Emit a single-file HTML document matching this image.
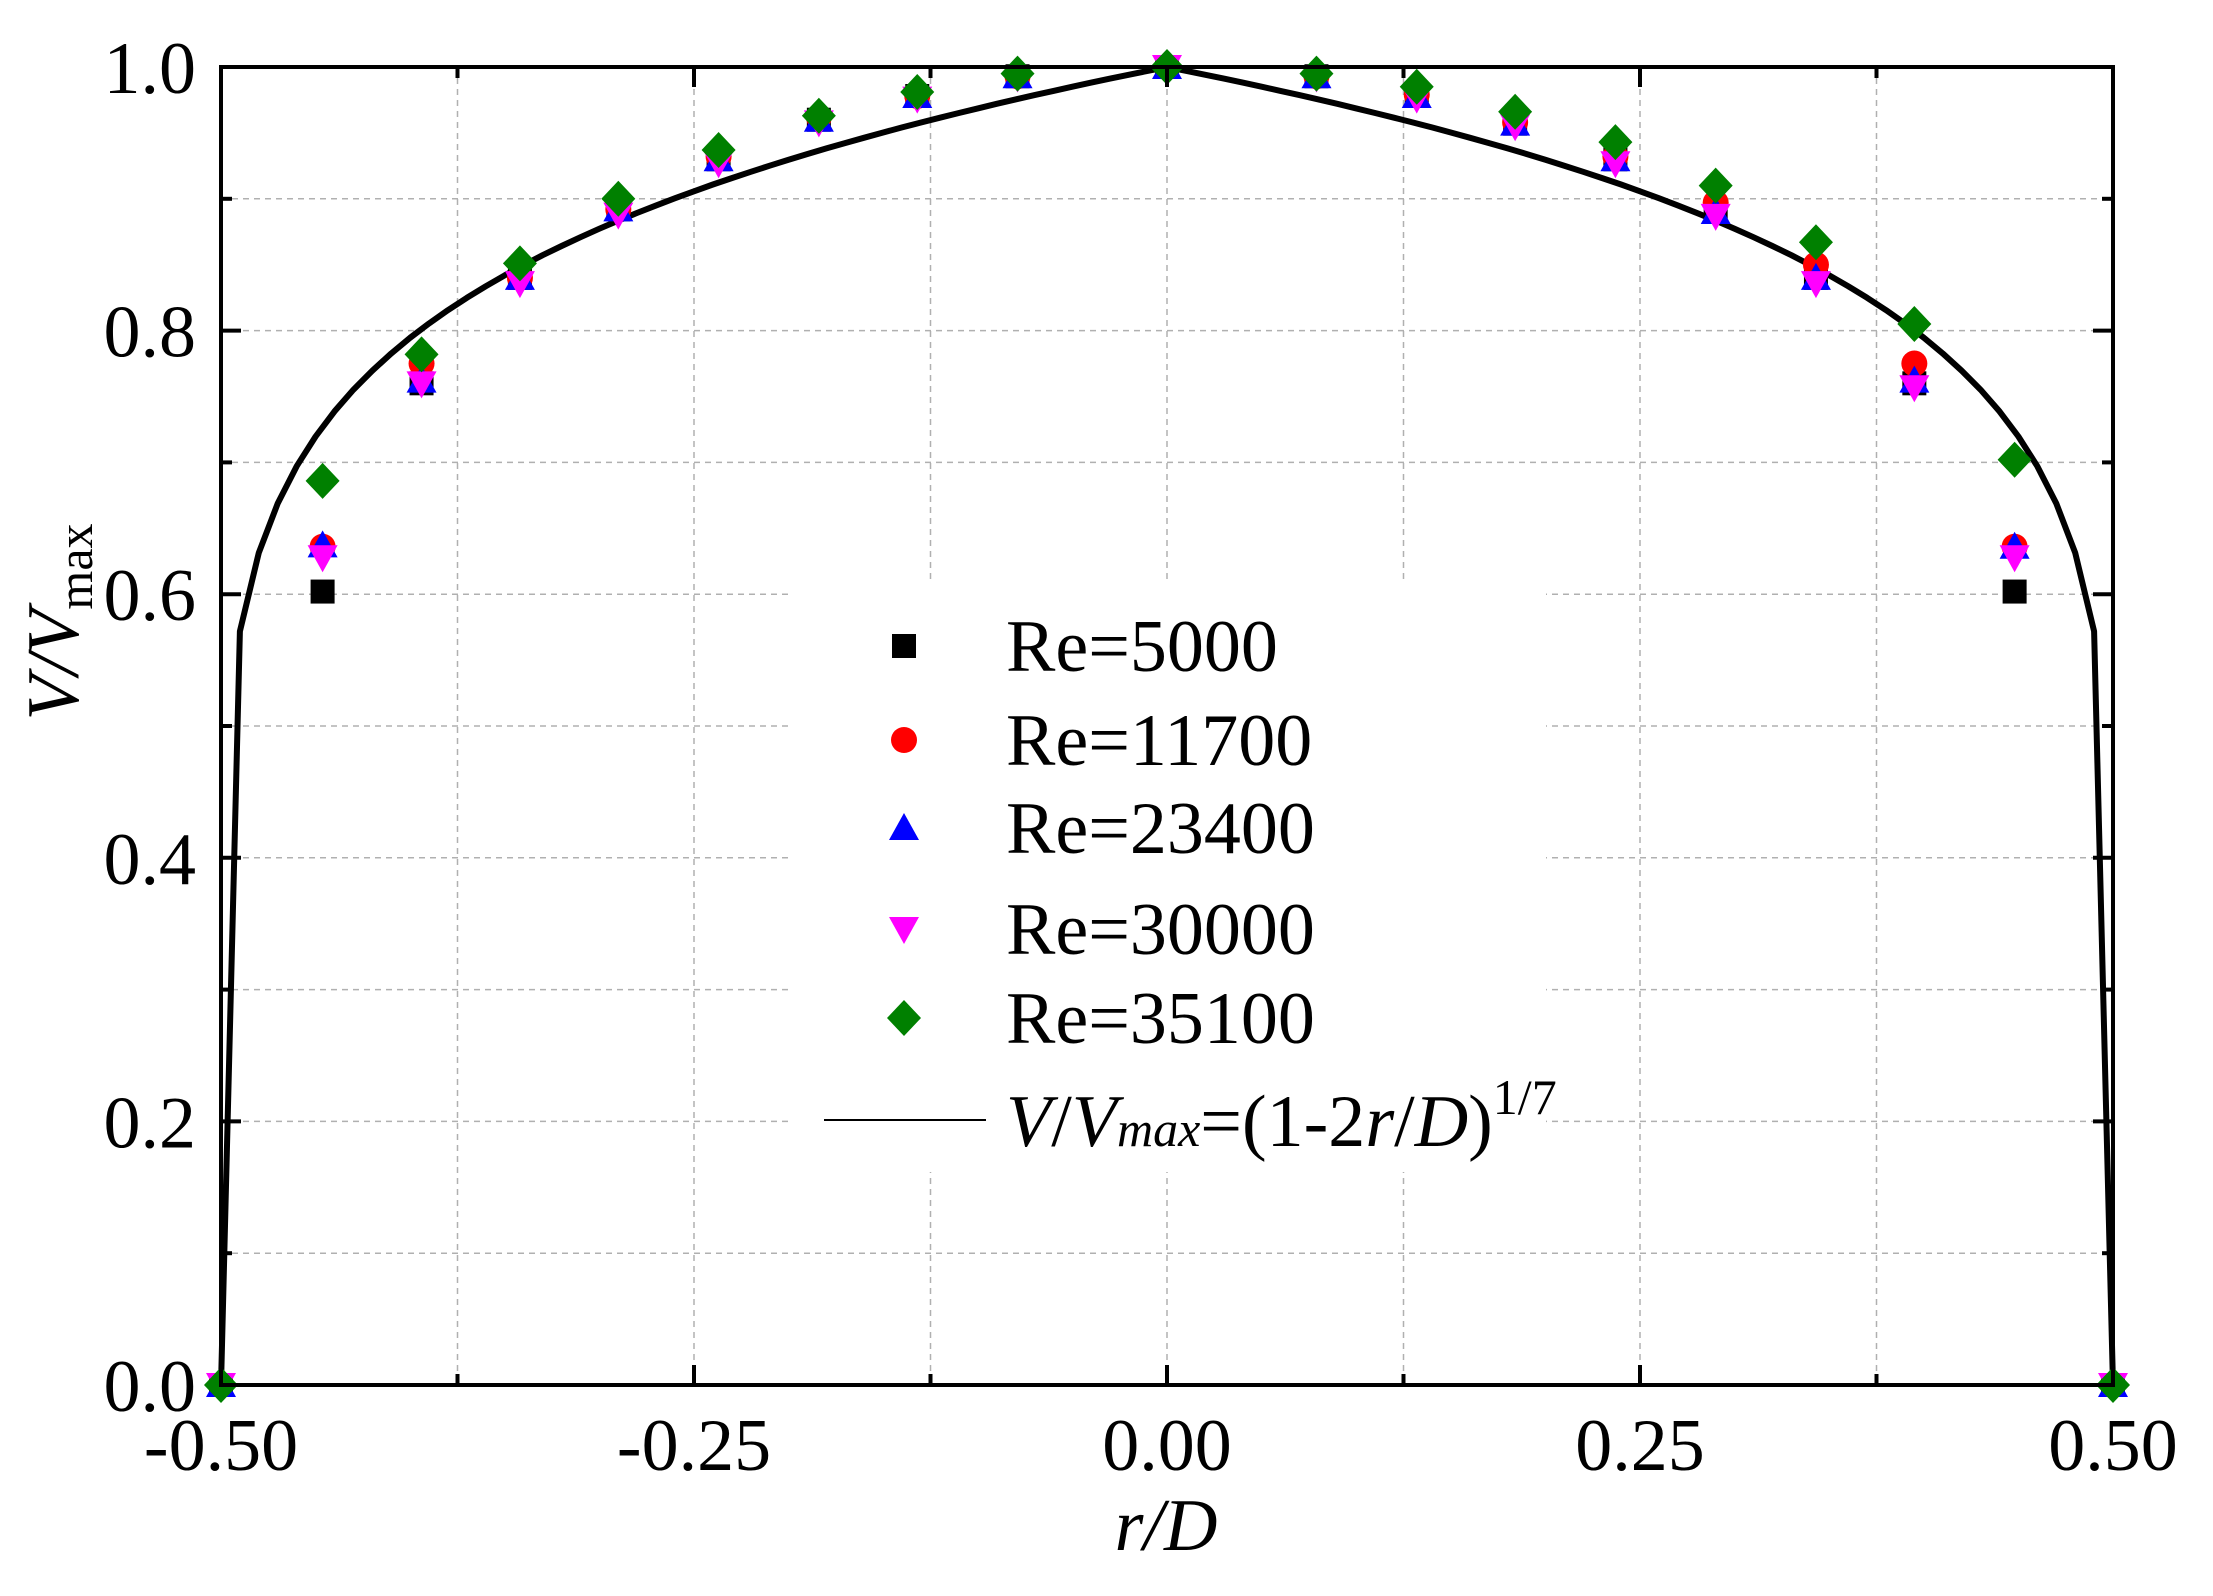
<!DOCTYPE html>
<html><head><meta charset="utf-8"><style>
html,body{margin:0;padding:0;background:#fff;}
svg{display:block;font-family:"Liberation Serif",serif;}
</style></head><body>
<svg id="s" width="2213" height="1596" viewBox="0 0 2213 1596" xmlns="http://www.w3.org/2000/svg"></svg>
<script>
const L=221,R=2113,T=67,B=1385;
const X=v=>L+(v+0.5)*(R-L), Y=v=>B-v*(B-T);
let h='';
for(let i=1;i<8;i++){const x=X(-0.5+i*0.125);h+=`<line x1="${x}" y1="${T}" x2="${x}" y2="${B}" stroke="#b0b0b0" stroke-width="1.5" stroke-dasharray="6,5"/>`;}
for(let i=1;i<10;i++){const y=Y(i*0.1);h+=`<line x1="${L}" y1="${y}" x2="${R}" y2="${y}" stroke="#b0b0b0" stroke-width="1.5" stroke-dasharray="6,5"/>`;}
h+=`<rect x="791" y="580" width="755" height="592" fill="#fff"/>`;
let pts=[];for(let i=0;i<=100;i++){const r=-0.5+i*0.01;const v=Math.pow(Math.max(0,1-2*Math.abs(r)),1/7);pts.push(X(r).toFixed(1)+','+Y(v).toFixed(1));}
h+=`<polyline points="${pts.join(' ')}" fill="none" stroke="#000" stroke-width="6" stroke-linejoin="round"/>`;
function mk(t,x,y){
 if(t==0)return `<rect x="${x-12}" y="${y-12}" width="24" height="24" fill="#000"/>`;
 if(t==1)return `<circle cx="${x}" cy="${y}" r="13" fill="#f00"/>`;
 if(t==2)return `<polygon points="${x},${y-15} ${x+15},${y+12} ${x-15},${y+12}" fill="#00f"/>`;
 if(t==3)return `<polygon points="${x},${y+15} ${x+15},${y-12} ${x-15},${y-12}" fill="#f0f"/>`;
 return `<polygon points="${x},${y-18} ${x+17},${y} ${x},${y+18} ${x-17},${y}" fill="#008000"/>`;
}
const xs=[-0.5,-0.4463,-0.394,-0.342,-0.290,-0.237,-0.184,-0.132,-0.079,0,0.079,0.132,0.184,0.237,0.290,0.343,0.395,0.448,0.5];
const d=[
[0,0,0,0,0],
[0.602,0.636,0.637,0.628,0.686],
[0.760,0.775,0.762,0.760,0.782],
[0.840,0.840,0.840,0.836,0.851],
[0.892,0.892,0.892,0.888,0.900],
[0.930,0.932,0.930,0.927,0.937],
[0.960,0.962,0.960,0.958,0.963],
[0.978,0.978,0.978,0.976,0.981],
[0.993,0.993,0.993,0.992,0.995],
[1,1,1,1,1],
[0.993,0.993,0.993,0.992,0.995],
[0.978,0.979,0.978,0.976,0.985],
[0.957,0.958,0.957,0.955,0.966],
[0.930,0.932,0.930,0.927,0.943],
[0.890,0.897,0.890,0.887,0.910],
[0.840,0.850,0.840,0.836,0.867],
[0.760,0.775,0.762,0.757,0.805],
[0.602,0.636,0.636,0.628,0.702],
[0,0,0,0,0]];
for(let t=0;t<5;t++)for(let i=0;i<xs.length;i++)h+=mk(t,X(xs[i]),Y(d[i][t]));
h+=`<rect x="${L}" y="${T}" width="${R-L}" height="${B-T}" fill="none" stroke="#000" stroke-width="4"/>`;
for(let i=0;i<=8;i++){const x=X(-0.5+i*0.125);const len=i%2==0?20:11;
 h+=`<line x1="${x}" y1="${B}" x2="${x}" y2="${B-len}" stroke="#000" stroke-width="4"/><line x1="${x}" y1="${T}" x2="${x}" y2="${T+len}" stroke="#000" stroke-width="4"/>`;}
for(let i=0;i<=10;i++){const y=Y(i*0.1);const len=i%2==0?20:11;
 h+=`<line x1="${L}" y1="${y}" x2="${L+len}" y2="${y}" stroke="#000" stroke-width="4"/><line x1="${R}" y1="${y}" x2="${R-len}" y2="${y}" stroke="#000" stroke-width="4"/>`;}
const xl=['-0.50','-0.25','0.00','0.25','0.50'];
xl.forEach((s,i)=>{h+=`<text x="${X(-0.5+i*0.25)}" y="1470" font-size="74" text-anchor="middle">${s}</text>`;});
['0.0','0.2','0.4','0.6','0.8','1.0'].forEach((s,i)=>{h+=`<text x="196" y="${Y(i*0.2)+26}" font-size="74" text-anchor="end">${s}</text>`;});
h+=`<text x="1166" y="1550" font-size="74" text-anchor="middle" font-style="italic">r/D</text>`;
h+=`<text transform="translate(78,622) rotate(-90)" font-size="74" text-anchor="middle"><tspan font-style="italic">V/V</tspan><tspan font-size="50" dy="14">max</tspan></text>`;
const ly=[646,740,828,929,1018];const lab=['Re=5000','Re=11700','Re=23400','Re=30000','Re=35100'];
for(let t=0;t<5;t++){h+=mk(t,904,ly[t]);h+=`<text x="1006" y="${ly[t]+25}" font-size="74">${lab[t]}</text>`;}
h+=`<line x1="824" y1="1120" x2="986" y2="1120" stroke="#000" stroke-width="2"/>`;
h+=`<text x="1006" y="1146" font-size="74"><tspan font-style="italic">V</tspan>/<tspan font-style="italic">V</tspan><tspan font-style="italic" font-size="50">max</tspan>=(1-2<tspan font-style="italic">r</tspan>/<tspan font-style="italic">D</tspan>)<tspan font-size="50" dy="-32">1/7</tspan></text>`;
document.getElementById('s').innerHTML=h;
</script>
</body></html>
